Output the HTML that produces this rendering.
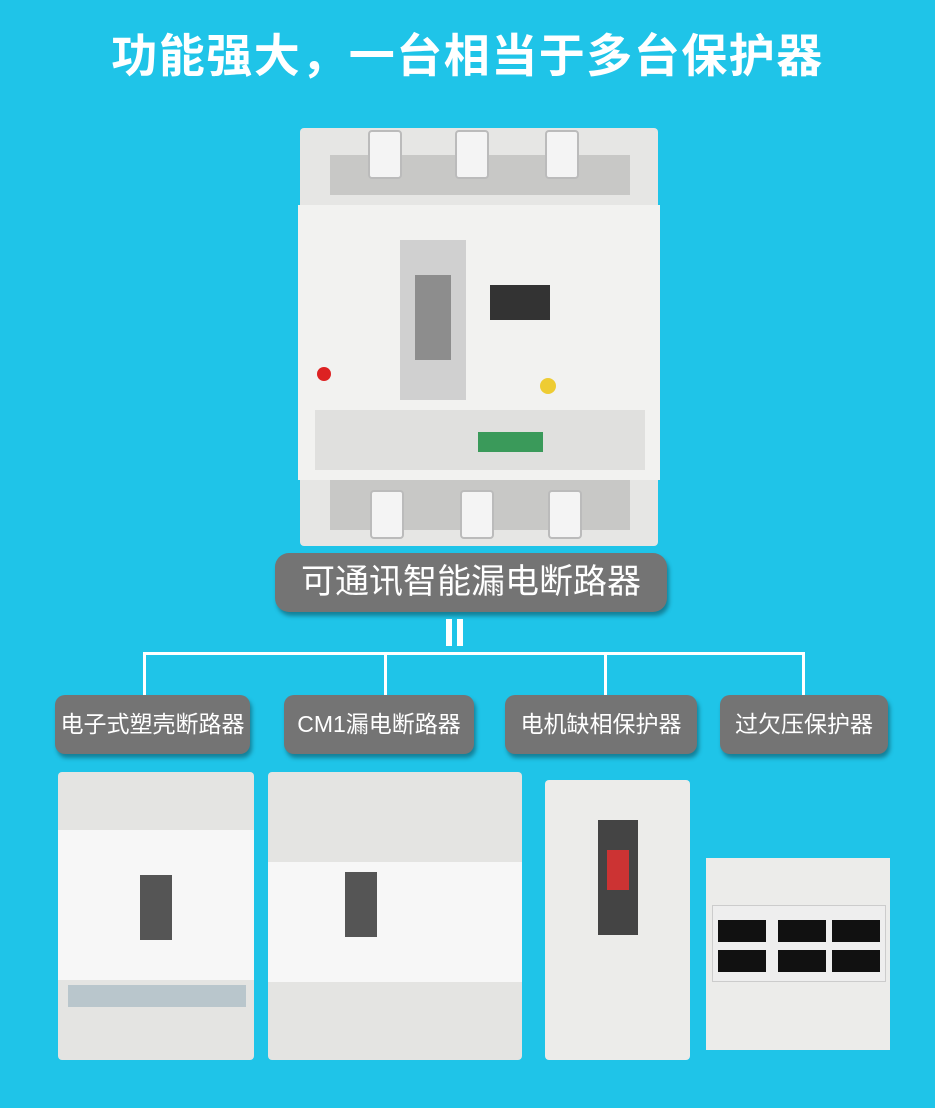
<!DOCTYPE html><html><head><meta charset="utf-8"><style>
body{margin:0;width:935px;height:1108px;background:#1fc4e8;position:relative;overflow:hidden;font-family:"Liberation Sans","Noto Sans CJK SC",sans-serif}
.a{position:absolute}
.t{left:0;width:935px;top:20px;text-align:center;color:#fff;font-size:46px;font-weight:bold;letter-spacing:1.5px}
.pill{background:#747474;color:#fff;border-radius:14px;box-shadow:2px 4px 4px rgba(0,0,0,.35);text-align:center}
.w{background:#fff}
.dev{background:#ececec;border-radius:4px}
.tm{position:absolute;width:30px;height:45px;background:#f4f4f4;border:2px solid #bbb;border-radius:4px}
</style></head><body>
<div class="a t">功能强大，一台相当于多台保护器</div>
<div class="a dev" style="left:300px;top:128px;width:358px;height:418px;background:#e6e6e4"></div>
<div class="a" style="left:330px;top:155px;width:300px;height:40px;background:#c8c8c6"></div>
<div class="a" style="left:330px;top:480px;width:300px;height:50px;background:#c8c8c6"></div>
<div class="tm" style="left:368px;top:130px"></div><div class="tm" style="left:455px;top:130px"></div><div class="tm" style="left:545px;top:130px"></div>
<div class="tm" style="left:370px;top:490px"></div><div class="tm" style="left:460px;top:490px"></div><div class="tm" style="left:548px;top:490px"></div>
<div class="a" style="left:298px;top:205px;width:362px;height:275px;background:#f2f2f0"></div>
<div class="a" style="left:400px;top:240px;width:66px;height:160px;background:#d0d0d0"></div>
<div class="a" style="left:415px;top:275px;width:36px;height:85px;background:#8d8d8d"></div>
<div class="a" style="left:490px;top:285px;width:60px;height:35px;background:#333"></div>
<div class="a" style="left:315px;top:410px;width:330px;height:60px;background:#e0e0de"></div>
<div class="a" style="left:478px;top:432px;width:65px;height:20px;background:#3a9a5a"></div>
<div class="a" style="left:317px;top:367px;width:14px;height:14px;border-radius:50%;background:#d22"></div>
<div class="a" style="left:540px;top:378px;width:16px;height:16px;border-radius:50%;background:#ec3"></div>
<div class="a pill" style="left:275px;top:553px;width:392px;height:59px;line-height:59px;font-size:34px">可通讯智能漏电断路器</div>
<div class="a w" style="left:446px;top:619px;width:6px;height:27px"></div>
<div class="a w" style="left:457px;top:619px;width:6px;height:27px"></div>
<div class="a w" style="left:143px;top:652px;width:662px;height:3px"></div>
<div class="a w" style="left:143px;top:652px;width:3px;height:43px"></div>
<div class="a w" style="left:384px;top:652px;width:3px;height:43px"></div>
<div class="a w" style="left:604px;top:652px;width:3px;height:43px"></div>
<div class="a w" style="left:802px;top:652px;width:3px;height:43px"></div>
<div class="a pill" style="left:55px;top:695px;width:195px;height:59px;line-height:59px;font-size:23px;border-radius:10px">电子式塑壳断路器</div>
<div class="a pill" style="left:284px;top:695px;width:190px;height:59px;line-height:59px;font-size:23px;border-radius:10px">CM1漏电断路器</div>
<div class="a pill" style="left:505px;top:695px;width:192px;height:59px;line-height:59px;font-size:23px;border-radius:10px">电机缺相保护器</div>
<div class="a pill" style="left:720px;top:695px;width:168px;height:59px;line-height:59px;font-size:23px;border-radius:10px">过欠压保护器</div>
<div class="a dev" style="left:58px;top:772px;width:196px;height:288px;background:#e4e4e2"></div>
<div class="a" style="left:58px;top:830px;width:196px;height:150px;background:#f7f7f7"></div>
<div class="a" style="left:140px;top:875px;width:32px;height:65px;background:#555"></div>
<div class="a" style="left:68px;top:985px;width:178px;height:22px;background:#b9c6cc"></div>
<div class="a dev" style="left:268px;top:772px;width:254px;height:288px;background:#e4e4e2"></div>
<div class="a" style="left:268px;top:862px;width:254px;height:120px;background:#f7f7f7"></div>
<div class="a" style="left:345px;top:872px;width:32px;height:65px;background:#555"></div>
<div class="a" style="left:545px;top:780px;width:145px;height:280px;background:#ececea;border-radius:4px"></div>
<div class="a" style="left:598px;top:820px;width:40px;height:115px;background:#444"></div>
<div class="a" style="left:607px;top:850px;width:22px;height:40px;background:#c33"></div>
<div class="a" style="left:706px;top:858px;width:184px;height:192px;background:#ececea"></div>
<div class="a" style="left:712px;top:905px;width:172px;height:75px;background:#eee;border:1px solid #ccc"></div>
<div class="a" style="left:718px;top:920px;width:48px;height:22px;background:#111"></div>
<div class="a" style="left:778px;top:920px;width:48px;height:22px;background:#111"></div>
<div class="a" style="left:832px;top:920px;width:48px;height:22px;background:#111"></div>
<div class="a" style="left:718px;top:950px;width:48px;height:22px;background:#111"></div>
<div class="a" style="left:778px;top:950px;width:48px;height:22px;background:#111"></div>
<div class="a" style="left:832px;top:950px;width:48px;height:22px;background:#111"></div>
</body></html>
